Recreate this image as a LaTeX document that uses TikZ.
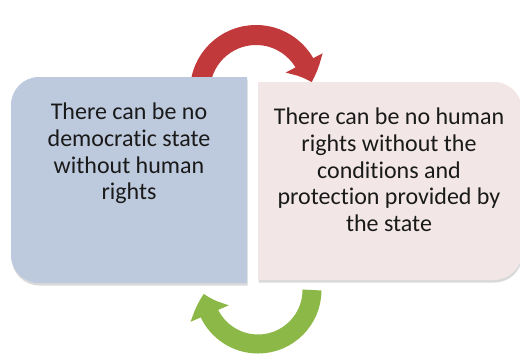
\documentclass[tikz,border=0pt]{standalone}
\usepackage{fontspec}
\setmainfont{Carlito}[Ligatures=NoCommon]
\usetikzlibrary{arrows.meta,bending,shadows}

\definecolor{boxblue}{HTML}{BDC9DC}
\definecolor{boxpink}{HTML}{F2E7E6}
\definecolor{arrowred}{HTML}{C1393A}
\definecolor{arrowgreen}{HTML}{8CB847}
\definecolor{inktext}{HTML}{1A1A1A}

\begin{document}
\begin{tikzpicture}[x=1pt,y=1pt,
	boxshadow/.style={drop shadow={opacity=0.3,shadow xshift=0.5pt,shadow yshift=-2.5pt}},
	boxtext/.style={anchor=north,inner sep=0pt,align=center,text=inktext,font=\fontsize{24}{26.7}\selectfont}]
	
	\useasboundingbox (0,0) rectangle (520,360);
	
	\draw[arrowred,line width=20pt,-{Triangle[width=40pt,length=21pt,bend]}] (200,269) arc[start angle=180,end angle=9,radius=56pt];
	
	\draw[arrowgreen,line width=19pt,-{Triangle[width=40pt,length=21pt,bend]}] (312,70) arc[start angle=0,end angle=-176,radius=54pt];
	
	\fill[boxblue,boxshadow] (247,77) -- (39,77) arc[start angle=270,end angle=180,radius=28pt] -- (11,255) arc[start angle=180,end angle=90,radius=28pt] -- (247,283) -- cycle;
	
	\fill[boxpink,boxshadow] (258,80) -- (494,80) arc[start angle=270,end angle=360,radius=28pt] -- (522,250) arc[start angle=0,end angle=90,radius=28pt] -- (258,278) -- cycle;
	
	\node[boxtext] (demo) at (129,257) {There can be no\\democratic state\\without human\\rights};
	
	\node[boxtext] (rights) at (389,252) {There can be no human\\rights without the\\conditions and\\protection provided by\\the state};
\end{tikzpicture}
\end{document}
